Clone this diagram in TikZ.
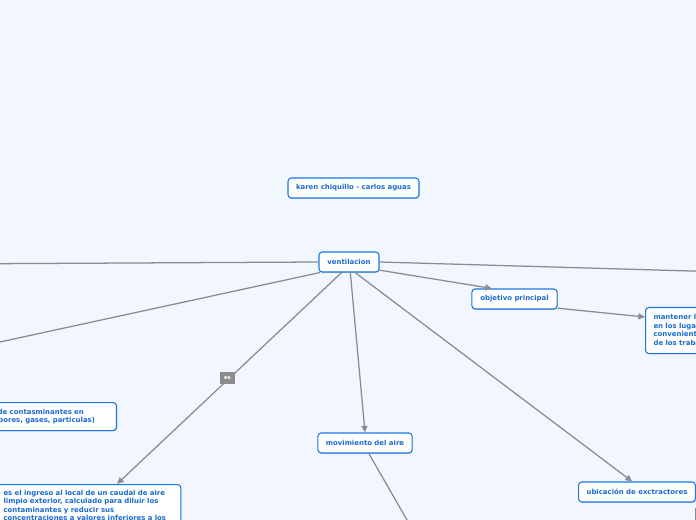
\documentclass[tikz,border=0pt]{standalone}
\usepackage{fontspec}
\setsansfont{DejaVu Sans}
\usetikzlibrary{positioning,arrows.meta,shadows}
\definecolor{bgblue}{HTML}{F2F6FF}
\definecolor{boxblue}{HTML}{1D76E2}
\definecolor{txtblue}{HTML}{1A6BD0}
\definecolor{linegray}{HTML}{8A8C92}
\definecolor{taggray}{HTML}{8C8C8C}

\tikzset{
  topic/.style={draw=boxblue, fill=white, rounded corners=2.5pt, line width=0.8pt,
    text=txtblue, font=\sffamily\bfseries\fontsize{5.2}{6.4}\selectfont,
    inner xsep=6pt, inner ysep=3pt, minimum height=15pt,
    drop shadow={shadow xshift=0.4pt, shadow yshift=-0.7pt, opacity=0.35, fill=gray}},
  link/.style={draw=linegray, line width=0.95pt},
  arr/.style={link, -{Triangle[length=5pt,width=4.5pt]}},
  tag/.style={fill=taggray, text=white, font=\sffamily\bfseries\fontsize{4}{5}\selectfont,
    inner sep=0pt, minimum width=11.25pt, minimum height=9pt}
}

\begin{document}
\begin{tikzpicture}[x=0.75pt, y=-0.75pt]
\useasboundingbox (0,0) rectangle (696,520);
\fill[bgblue] (0,0) rectangle (696,520);
\clip (0,0) rectangle (696,520);

% topics
\node[topic, minimum width=98pt] (autores) at (353.5,188) {karen chiquillo - carlos aguas};
\node[topic, minimum width=45pt] (vent) at (349,262) {ventilacion};
\node[topic, minimum width=64pt] (objetivo) at (514.5,299) {objetivo principal};
\node[topic, anchor=north west, align=left, text width=120pt, inner xsep=6pt, minimum height=34.5pt] (mantener) at (645,307)
  {mantener las condiciones\\ en los lugares de trabajo\\ convenientes para la salud\\ de los trabajadores};
\node[topic, anchor=north east, align=left, text width=112pt, minimum height=21pt] (contam) at (117,402)
  {remoción de contasminantes en\\ el aire (vapores, gases, particulas)};
\node[topic, anchor=north west, align=left, text width=127pt, inner ysep=4pt] (ingreso) at (-5,484)
  {es el ingreso al local de un caudal de aire\\ limpio exterior, calculado para diluir los\\ contaminantes y reducir sus\\ concentraciones a valores inferiores a los};
\node[topic, minimum width=70pt] (movim) at (365,443) {movimiento del aire};
\node[topic, minimum width=82pt] (ubic) at (637,492) {ubicación de exctractores};

% free ends outside the page
\coordinate (izq1) at (-60,264);
\coordinate (izq2) at (-60,355);
\coordinate (der1) at (760,273);
\coordinate (abajo) at (430,560);
\coordinate (esq) at (760,560);

% connectors
\draw[link] (vent.west) -- (izq1);
\draw[link] (vent.200) -- (izq2);
\draw[link] (vent.east) -- (der1);
\draw[arr] (vent.-15) -- (objetivo.155);
\draw[arr] (objetivo.-12) -- ([yshift=-7.5pt]mantener.north west);
\draw[arr] (vent.-125) -- ([xshift=91.5pt]ingreso.north west);
\draw[arr] ([xshift=1pt]vent.south) -- (movim.north);
\draw[arr] (vent.-60) -- (ubic.115);
\draw[link] (movim.-70) -- (abajo);
\draw[link] (ubic.east) -- (esq);
\node[tag] (tagesq) at (702,514) {};
\node[tag] (es) at (227.5,378) {es};
\end{tikzpicture}
\end{document}
